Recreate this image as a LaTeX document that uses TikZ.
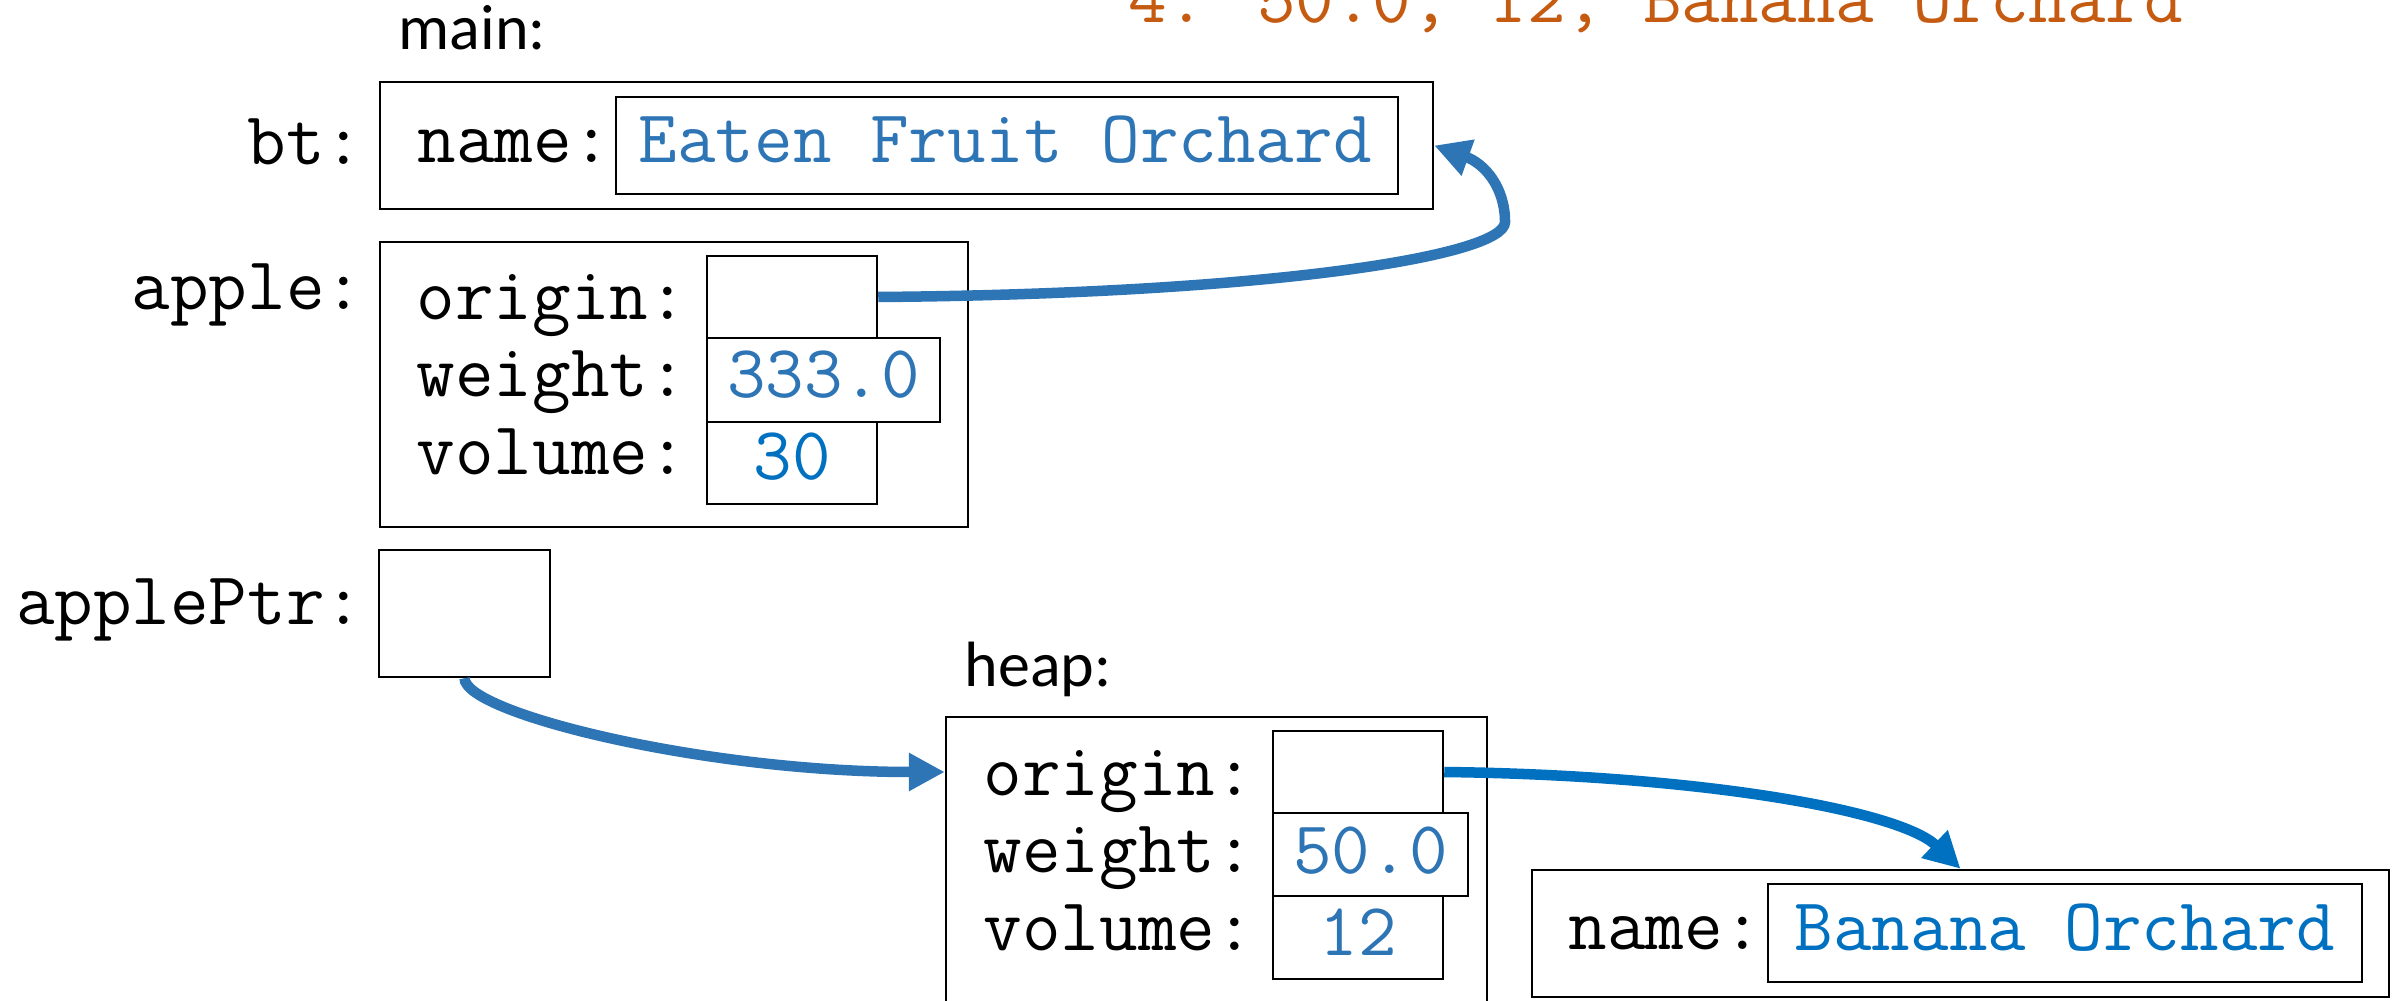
\documentclass[tikz,border=0pt]{standalone}
\usepackage{fontspec}
\newfontfamily\headfont{Carlito}
\usetikzlibrary{arrows.meta,fit}
\definecolor{valblue}{HTML}{2E75B6}
\definecolor{brightblue}{HTML}{0070C0}
\definecolor{outorange}{HTML}{C55A11}
\begin{document}
\begin{tikzpicture}[x=0.01cm,y=-0.01cm,
  box/.style={draw=black, line width=0.7pt, inner sep=0pt},
  mono/.style={font=\ttfamily\fontsize{21.3pt}{23pt}\selectfont, inner sep=0pt, text=black},
  head/.style={font=\headfont\fontsize{18.2pt}{20pt}\selectfont, inner sep=0pt, text=black},
  lbl/.style={mono, anchor=base east},
  fld/.style={mono, anchor=base west},
  val/.style={mono, anchor=base, text=valblue},
  ptr/.style={draw=#1, line width=0.105cm, line cap=butt,
    -{Triangle[length=0.36cm,width=0.36cm]}},
  ptr/.default=valblue]
\useasboundingbox (0,0) rectangle (2392,1001);
\clip (0,0) rectangle (2392,1001);

% printed output line
\node[mono, anchor=base west, text=outorange] (out) at (1128,23) {4. 50.0, 12, Banana Orchard};

% stack frame of main
\node[head, anchor=base west] (mainlbl) at (398,50) {main:};

% bt
\node[lbl] (btlbl) at (364,165) {bt:};
\node[box, fit={(380,82) (1433,209)}] (bt) {};
\node[box, fit={(616,97) (1398,194)}] (btname) {};
\node[fld] (btnamelbl) at (417,163) {name:};
\node[fld, text=valblue] (btnameval) at (638,163) {Eaten Fruit Orchard};

% apple
\node[lbl] (applelbl) at (364,310) {apple:};
\node[box, fit={(380,242) (968,527)}] (apple) {};
\node[box, fit={(707,256) (877,338)}] (aori) {};
\node[box, fit={(707,338) (940,422)}] (awt) {};
\node[box, fit={(707,422) (877,504)}] (avol) {};
\node[fld] (aorilbl) at (416,320) {origin:};
\node[fld] (awtlbl) at (416,397) {weight:};
\node[fld] (avollbl) at (416,475) {volume:};
\node[val] (awtval) at (823.5,398) {333.0};
\node[val, text=brightblue] (avolval) at (792,480) {30};

% applePtr
\node[lbl] (ptrlbl) at (364,625) {applePtr:};
\node[box, fit={(379,550) (550,677)}] (ptr) {};

% heap object
\node[head, anchor=base west] (heaplbl) at (964,687) {heap:};
\node[box, fit={(946,717) (1487,1040)}] (heap) {};
\node[box, fit={(1273,731) (1443,813)}] (hori) {};
\node[box, fit={(1273,813) (1468,896)}] (hwt) {};
\node[box, fit={(1273,896) (1443,979)}] (hvol) {};
\node[fld] (horilbl) at (983,795) {origin:};
\node[fld] (hwtlbl) at (983,872) {weight:};
\node[fld] (hvollbl) at (983,950) {volume:};
\node[val] (hwtval) at (1370.5,873) {50.0};
\node[val] (hvolval) at (1358,955) {12};

% orchard object on the heap
\node[box, fit={(1532,870) (2389,997)}] (orch) {};
\node[box, fit={(1768,884) (2362,982)}] (orchname) {};
\node[fld] (orchnamelbl) at (1568,949) {name:};
\node[fld, text=brightblue] (orchnameval) at (1794,950) {Banana Orchard};

% pointers
\coordinate (bend) at (1505,222);
\draw[ptr] (aori.east) .. controls +(380,-3) and +(0,35) .. (bend)
  .. controls +(0,-35) and +(50,18) .. (bt.east);
\draw[ptr] (ptr.south) .. controls +(0,35) and +(-240,0) .. (hori.west -| heap.west);
\draw[ptr=brightblue] (hori.east) .. controls +(257,3) and +(-61,-58) .. (orch.north);
\end{tikzpicture}
\end{document}
